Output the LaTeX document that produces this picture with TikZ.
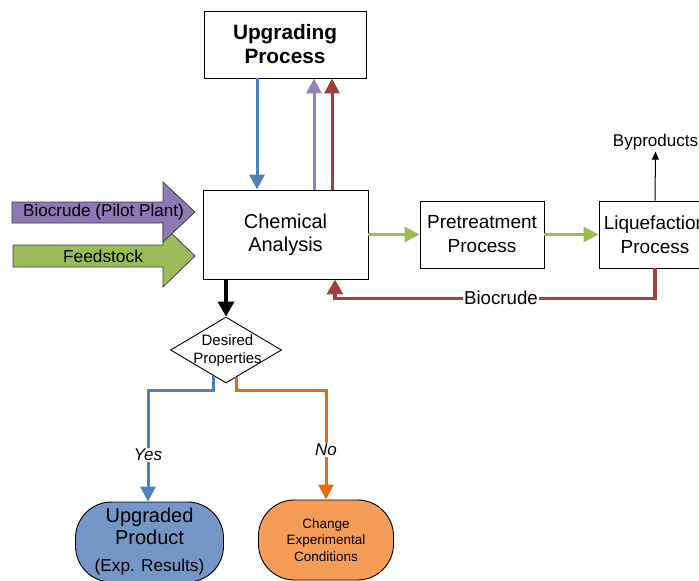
\documentclass[tikz,border=0pt]{standalone}
\usepackage{fontspec}
\setmainfont{Liberation Sans}
\usetikzlibrary{arrows.meta,shapes.geometric}
\definecolor{cpurple}{HTML}{8C79B6}
\definecolor{cpurpleline}{HTML}{9980BA}
\definecolor{cgreen}{HTML}{9BBB59}
\definecolor{cblue}{HTML}{4F81BD}
\definecolor{cred}{HTML}{A0413B}
\definecolor{corange}{HTML}{E46C0A}
\definecolor{cbluefill}{HTML}{7397C7}
\definecolor{corangefill}{HTML}{F59D56}
\definecolor{coutline}{HTML}{404040}
\tikzset{
  procbox/.style={draw=black, line width=0.9pt, fill=white, align=center, inner sep=0pt},
  fatline/.style={line width=3pt, -{Triangle[length=15pt,width=15pt]}},
  bigarrow/.style={draw=coutline, line width=0.8pt},
  stadium/.style={draw=black, line width=0.9pt, rounded corners=36pt, align=center, inner sep=0pt},
}
\begin{document}
\begin{tikzpicture}[x=1pt,y=-1pt]
\clip (0,0) rectangle (699,581);
\fill[white] (0,0) rectangle (699,581);

% boxes
\node[procbox, minimum width=162, minimum height=67, font=\bfseries\fontsize{20.8}{24}\selectfont] (up) at (285,44.5) {Upgrading\\Process};
\node[procbox, minimum width=165, minimum height=89, font=\fontsize{20}{23}\selectfont] (ca) at (285.5,234.5) {Chemical\\Analysis};
\node[procbox, minimum width=124, minimum height=67, font=\fontsize{19}{24}\selectfont] (pt) at (482,234.5) {Pretreatment\\Process};
\node[procbox, minimum width=112, minimum height=67, font=\fontsize{19}{24}\selectfont] (lq) at (655,234.5) {Liquefaction\\Process};
\node[font=\fontsize{17}{20}\selectfont, inner sep=1pt] (bp) at (655.5,142.5) {Byproducts};

% big input arrows
\draw[bigarrow, fill=cgreen] (13,245) -- (163,245) -- (163,225) -- (195,256) -- (163,287) -- (163,267) -- (13,267) -- cycle;
\draw[bigarrow, fill=cpurple] (12,202) -- (163,202) -- (163,182) -- (195,212) -- (163,242) -- (163,223) -- (12,223) -- cycle;
\node[font=\fontsize{17.1}{20}\selectfont] (bpp) at (103.5,212) {Biocrude (Pilot Plant)};
\node[font=\fontsize{17.3}{20}\selectfont] (fs) at (103,256) {Feedstock};

% diamond
\node[draw=black, line width=0.9pt, diamond, minimum width=111, minimum height=66, inner sep=0pt] (dp) at (226,350) {};
\node[font=\fontsize{15}{18}\selectfont, align=center] (dpt) at (227.5,351) {Desired\\Properties};

% end nodes
\node[stadium, fill=cbluefill, minimum width=148, minimum height=80, font=\fontsize{20}{22}\selectfont] (upr) at (149.5,542) {Upgraded\\Product\\[5pt]\fontsize{17.2}{20}\selectfont (Exp. Results)};
\node[stadium, fill=corangefill, minimum width=135, minimum height=80, font=\fontsize{13.5}{16.5}\selectfont] (cec) at (326,540) {Change\\Experimental\\Conditions};

% connectors
\draw[fatline, cblue] ([xshift=-28pt]up.south) -- ([xshift=-28.5pt]ca.north);
\draw[fatline, cpurpleline] ([xshift=28.5pt]ca.north) -- ([xshift=29pt]up.south);
\draw[fatline, cred] ([xshift=46.5pt]ca.north) -- ([xshift=47pt]up.south);
\draw[fatline, cgreen] (ca.east) -- (pt.west);
\draw[fatline, cgreen] (pt.east) -- (lq.west);
\draw[line width=1pt, -{Triangle[length=8pt,width=7pt]}] (lq.north) -- (bp.south);
\draw[line width=3.5pt, cred, -{Triangle[length=15pt,width=16pt]}] (lq.south) -- ++(0,30) -| ([xshift=49.5pt]ca.south);
\node[fill=white, inner sep=1pt, font=\fontsize{18.7}{20}\selectfont] (bcl) at (501,298) {Biocrude};
\draw[line width=4pt, black, -{Triangle[length=15pt,width=16pt]}] ([xshift=-59.5pt]ca.south) -- (dp.north);
\draw[fatline, cblue] (dp.245) -- ++(0,14) -| ([xshift=-1.5pt]upr.north);
\draw[fatline, corange] (dp.292.5) -- ++(0,14) -| (cec.north);
\node[fill=white, inner sep=1.5pt, font=\itshape\fontsize{17}{19}\selectfont] (yes) at (148,455) {Yes};
\node[fill=white, inner sep=1.5pt, font=\itshape\fontsize{17}{19}\selectfont] (no) at (326,450) {No};
\end{tikzpicture}
\end{document}
